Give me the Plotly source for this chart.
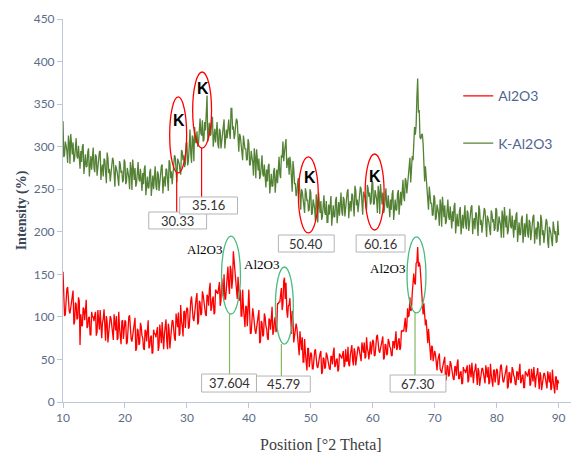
import plotly.graph_objects as go

# 2-theta scan positions (0.125 deg step, 10..90)
two_theta = [round(10 + 0.125 * i, 3) for i in range(641)]

k_al2o3 = [
    330, 288, 290, 306, 301, 295, 281, 313,  305, 280, 315, 298, 291, 305, 282, 286,
    298, 310, 289, 286, 301, 276, 274, 295,  282, 300, 303, 268, 289, 291, 276, 277,
    294, 298, 265, 283, 289, 273, 295, 299,  275, 270, 291, 288, 266, 277, 283, 294,
    295, 261, 274, 279, 265, 286, 284, 268,  257, 293, 287, 269, 274, 259, 267, 279,
    287, 284, 260, 253, 278, 275, 270, 262,  254, 283, 279, 269, 272, 258, 261, 285,
    282, 256, 259, 275, 270, 264, 250, 282,  274, 249, 285, 268, 261, 275, 253, 257,
    270, 282, 262, 259, 274, 249, 248, 269,  256, 274, 278, 243, 263, 265, 251, 252,
    270, 274, 242, 260, 266, 250, 273, 277,  254, 249, 271, 268, 248, 259, 266, 277,
    279, 245, 260, 265, 253, 274, 273, 257,  248, 284, 281, 263, 271, 256, 266, 278,
    290, 287, 265, 258, 286, 283, 280, 272,  267, 296, 294, 284, 290, 276, 280, 304,
    304, 278, 284, 300, 320, 292, 281, 313,  308, 283, 323, 306, 304, 318, 300, 304,
    321, 333, 316, 313, 331, 306, 308, 329,  319, 337, 360, 306, 326, 328, 313, 314,
    331, 335, 300, 318, 321, 305, 325, 329,  303, 298, 321, 318, 298, 309, 318, 329,
    332, 298, 315, 320, 310, 331, 332, 316,  309, 345, 345, 320, 324, 309, 314, 326,
    333, 330, 301, 294, 315, 312, 303, 295,  284, 313, 307, 297, 298, 284, 285, 309,
    304, 278, 279, 295, 288, 282, 266, 298,  288, 263, 297, 280, 272, 286, 262, 266,
    278, 290, 268, 265, 279, 254, 252, 273,  259, 277, 280, 245, 266, 268, 253, 254,
    271, 275, 246, 264, 273, 257, 284, 288,  268, 263, 290, 287, 306, 283, 294, 305,
    309, 275, 282, 287, 267, 288, 280, 264,  247, 283, 274, 256, 257, 242, 246, 258,
    263, 260, 233, 226, 250, 247, 239, 231,  222, 251, 246, 236, 238, 224, 226, 250,
    246, 220, 222, 238, 233, 227, 212, 244,  236, 211, 246, 229, 222, 236, 214, 218,
    231, 243, 223, 220, 236, 211, 211, 232,  220, 238, 242, 207, 229, 231, 217, 218,
    237, 241, 210, 228, 235, 219, 242, 246,  224, 219, 241, 238, 218, 229, 236, 247,
    250, 216, 231, 236, 224, 245, 243, 227,  218, 254, 249, 231, 238, 223, 231, 243,
    253, 250, 227, 220, 247, 244, 240, 232,  226, 255, 251, 241, 246, 232, 235, 259,
    258, 232, 233, 249, 244, 238, 222, 254,  246, 221, 256, 239, 232, 246, 222, 226,
    239, 251, 231, 228, 243, 218, 217, 238,  226, 244, 249, 214, 236, 238, 225, 226,
    245, 249, 220, 238, 247, 231, 257, 261,  241, 236, 263, 260, 245, 256, 268, 279,
    287, 258, 277, 289, 284, 315, 323, 314,  325, 358, 380, 340, 343, 311, 309, 314,
    315, 304, 273, 259, 277, 266, 254, 239,  226, 253, 245, 233, 234, 219, 220, 243,
    240, 214, 216, 232, 227, 221, 207, 238,  231, 206, 241, 224, 217, 231, 209, 212,
    226, 238, 218, 214, 230, 205, 204, 224,  212, 230, 234, 198, 219, 221, 207, 207,
    225, 229, 197, 215, 220, 204, 227, 231,  208, 203, 225, 222, 201, 211, 218, 229,
    231, 197, 211, 216, 203, 223, 221, 205,  195, 231, 226, 208, 214, 199, 207, 219,
    228, 225, 201, 194, 219, 216, 211, 203,  196, 225, 221, 211, 215, 201, 204, 228,
    226, 200, 202, 218, 214, 208, 193, 225,  218, 193, 229, 212, 205, 219, 197, 201,
    215, 227, 207, 204, 219, 194, 193, 214,  202, 220, 223, 188, 209, 211, 196, 197,
    215, 219, 187, 205, 210, 194, 217, 221,  198, 193, 214, 211, 190, 201, 207, 218,
    220, 186, 200, 205, 191, 212, 210, 194,  184, 220, 214, 196, 202, 187, 194, 206,
    215, 212, 188, 181, 206, 203, 198, 190,  183, 212, 207, 197, 201, 187, 189, 213,
    196,
]

al2o3 = [
    153, 127, 101, 103, 121, 133, 135, 110,  107, 104, 112, 117, 125, 131, 91, 94,
    117, 115, 97, 99, 123, 119, 67, 103,  91, 89, 111, 109, 96, 115, 120, 87,
    89, 99, 100, 79, 79, 106, 100, 100,  95, 102, 106, 78, 82, 108, 87, 85,
    108, 79, 75, 93, 98, 109, 82, 72,  101, 94, 70, 80, 94, 101, 98, 86,
    76, 73, 103, 95, 84, 101, 73, 75,  106, 87, 80, 68, 95, 96, 74, 91,
    96, 94, 68, 70, 88, 100, 102, 77,  74, 71, 79, 84, 93, 99, 60, 63,
    86, 84, 67, 69, 93, 89, 78, 75,  63, 61, 85, 83, 71, 90, 96, 63,
    66, 76, 78, 57, 58, 85, 80, 80,  76, 83, 88, 60, 65, 91, 71, 69,
    94, 65, 62, 80, 86, 97, 72, 62,  92, 85, 63, 73, 89, 96, 95, 83,
    75, 72, 104, 96, 88, 105, 78, 80,  114, 95, 89, 77, 106, 107, 87, 104,
    111, 109, 86, 88, 107, 119, 124, 99,  98, 95, 106, 111, 122, 128, 91, 94,
    119, 117, 102, 104, 130, 126, 116, 113,  103, 101, 126, 124, 113, 132, 140, 107,
    111, 121, 124, 103, 105, 132, 130, 130,  127, 134, 141, 113, 119, 145, 126, 124,
    150, 121, 121, 139, 148, 159, 137, 127,  160, 155, 133, 144, 177, 164, 160, 143,
    128, 121, 147, 134, 119, 132, 101, 101,  132, 111, 102, 88, 113, 112, 89, 105,
    132, 106, 80, 81, 99, 110, 103, 86,  84, 80, 89, 93, 103, 108, 69, 71,
    95, 93, 77, 79, 104, 100, 89, 86,  75, 73, 98, 96, 85, 104, 112, 79,
    83, 95, 100, 82, 86, 116, 115, 118,  117, 126, 134, 108, 115, 142, 146, 121,
    140, 107, 99, 113, 114, 122, 93, 80,  107, 97, 70, 77, 88, 92, 87, 73,
    60, 55, 83, 73, 61, 76, 47, 47,  74, 58, 50, 37, 63, 63, 41, 57,
    58, 56, 39, 39, 52, 60, 62, 44,  42, 40, 47, 50, 57, 60, 33, 35,
    52, 51, 39, 41, 58, 55, 49, 47,  39, 38, 54, 53, 44, 58, 64, 41,
    43, 50, 51, 36, 38, 57, 54, 54,  51, 56, 60, 41, 44, 62, 48, 48,
    65, 44, 42, 55, 60, 67, 49, 43,  63, 59, 43, 50, 61, 65, 64, 57,
    50, 48, 70, 64, 58, 70, 51, 53,  76, 63, 59, 50, 70, 71, 56, 68,
    73, 71, 54, 55, 69, 77, 79, 62,  60, 58, 64, 67, 73, 77, 50, 52,
    68, 67, 55, 57, 74, 71, 65, 63,  55, 54, 71, 71, 63, 77, 83, 61,
    64, 72, 75, 61, 64, 84, 83, 84,  83, 91, 99, 82, 89, 110, 100, 102,
    123, 107, 109, 128, 138, 151, 140, 138,  163, 164, 182, 159, 164, 160, 147, 129,
    112, 103, 116, 103, 90, 97, 72, 69,  86, 69, 61, 49, 66, 65, 48, 58,
    60, 56, 38, 37, 49, 56, 57, 39,  36, 34, 40, 43, 49, 53, 25, 27,
    43, 42, 30, 32, 48, 45, 38, 36,  27, 26, 42, 41, 31, 45, 50, 27,
    28, 35, 36, 21, 22, 41, 37, 37,  34, 39, 43, 23, 26, 44, 30, 29,
    46, 25, 22, 35, 38, 45, 27, 20,  40, 36, 19, 26, 36, 40, 39, 31,
    24, 22, 43, 37, 29, 41, 21, 23,  45, 32, 27, 18, 37, 38, 23, 35,
    39, 37, 20, 21, 34, 42, 44, 27,  25, 23, 29, 32, 39, 43, 16, 18,
    35, 34, 22, 24, 41, 38, 31, 29,  21, 20, 36, 35, 26, 40, 45, 22,
    24, 31, 32, 17, 17, 36, 33, 33,  30, 35, 39, 19, 21, 39, 25, 24,
    41, 20, 17, 30, 33, 40, 22, 15,  35, 31, 14, 21, 30, 34, 33, 25,
    18, 16, 36, 30, 23, 35, 14, 16,  38, 25, 19, 10, 29, 30, 14, 26,
    22,
]

x_ticks = [10, 20, 30, 40, 50, 60, 70, 80, 90]
y_ticks = [0, 50, 100, 150, 200, 250, 300, 350, 400, 450]

# Peak callouts
k_boxes = [("30.33", 23.84, 33.18, 203.3, 223.2), ("35.16", 28.83, 38.17, 220.9, 240.9),
           ("50.40", 44.77, 53.78, 176.2, 196.2), ("60.16", 57.32, 65.21, 176.2, 196.2)]
a_boxes = [("37.604", 32.37, 41.23, 11.7, 32.9), ("45.79", 41.23, 49.92, 11.7, 30.5),
           ("67.30", 62.80, 71.81, 11.7, 31.7)]
k_ellipses = [(27.22, 29.96, 269.1, 358.4), (30.93, 33.98, 298.4, 387.7),
              (47.99, 51.21, 198.6, 287.9), (58.77, 61.83, 202.1, 291.4)]
k_text = [(28.67, 330.2), (32.54, 368.9), (49.92, 263.2), (60.38, 265.5)]
k_lines = [(28.35, 269.1, 223.2), (32.37, 298.4, 240.9)]
a_ellipses = [(35.59, 38.65, 103.4, 195.0), (44.29, 47.18, 68.1, 158.6),
              (65.53, 68.59, 104.6, 193.9)]
a_lines = [(36.88, 103.4, 32.9), (45.25, 68.1, 30.5), (66.82, 104.6, 31.7)]
a_text = [(32.86, 178.6), (42.03, 161.0), (62.31, 157.4)]

RED = "#ff0000"
GREEN = "#548235"
AXIS = "#bcc6d6"
TICKC = "#5b6c88"

fig = go.Figure()
fig.add_trace(go.Scatter(x=two_theta, y=al2o3, mode="lines", name="Al2O3",
                         line=dict(color=RED, width=1.3), legendgroup="a"))
fig.add_trace(go.Scatter(x=two_theta, y=k_al2o3, mode="lines", name="K-Al2O3",
                         line=dict(color=GREEN, width=1.3), legendgroup="b"))

shapes = []
annotations = []
for (x0, x1, y0, y1) in k_ellipses:
    shapes.append(dict(type="circle", xref="x", yref="y", x0=x0, x1=x1, y0=y0, y1=y1,
                       line=dict(color=RED, width=1.3)))
for (xx, y0, y1) in k_lines:
    shapes.append(dict(type="line", xref="x", yref="y", x0=xx, x1=xx, y0=y0, y1=y1,
                       line=dict(color=RED, width=1.2)))
for (x0, x1, y0, y1) in a_ellipses:
    shapes.append(dict(type="circle", xref="x", yref="y", x0=x0, x1=x1, y0=y0, y1=y1,
                       line=dict(color="#4cbb80", width=1.3)))
for (xx, y0, y1) in a_lines:
    shapes.append(dict(type="line", xref="x", yref="y", x0=xx, x1=xx, y0=y0, y1=y1,
                       line=dict(color="#86b862", width=1.2)))
for (lab, x0, x1, y0, y1) in k_boxes + a_boxes:
    shapes.append(dict(type="rect", xref="x", yref="y", x0=x0, x1=x1, y0=y0, y1=y1,
                       line=dict(color="#b4b4b4", width=1), fillcolor="white", layer="above"))
    annotations.append(dict(x=(x0 + x1) / 2, y=(y0 + y1) / 2, xref="x", yref="y", text=lab,
                            showarrow=False, font=dict(family="Lato", size=13, color="#333333")))
for (xx, yy) in k_text:
    annotations.append(dict(x=xx, y=yy, xref="x", yref="y", text="<b>K</b>", showarrow=False,
                            font=dict(family="Liberation Sans", size=16, color="black")))
for (xx, yy) in a_text:
    annotations.append(dict(x=xx, y=yy, xref="x", yref="y", text="Al2O3", showarrow=False,
                            font=dict(family="Liberation Serif", size=13, color="black")))

# axis titles
annotations.append(dict(x=0.508, y=-0.112, xref="paper", yref="paper", text="Position [°2 Theta]",
                        showarrow=False, xanchor="center", yanchor="middle",
                        font=dict(family="Liberation Serif", size=16, color="#404040")))
annotations.append(dict(x=-0.081, y=0.5, xref="paper", yref="paper", text="<b>Intensity (%)</b>",
                        showarrow=False, textangle=-90, xanchor="center", yanchor="middle",
                        font=dict(family="Liberation Serif", size=14, color="#3b4658")))

fig.update_layout(
    width=573, height=458,
    margin=dict(l=63, r=2, t=19, b=56),
    paper_bgcolor="white", plot_bgcolor="white",
    shapes=shapes, annotations=annotations,
    showlegend=True,
    legend=dict(x=0.778, y=0.84, xanchor="left", yanchor="top", bgcolor="rgba(0,0,0,0)",
                font=dict(family="Lato", size=14, color="#4f6690"), tracegroupgap=26,
                traceorder="grouped"),
    xaxis=dict(range=[10, 92], tickvals=x_ticks, ticks="outside", ticklen=5, tickcolor=AXIS,
               showline=True, linecolor=AXIS, linewidth=1, showgrid=False, zeroline=False,
               automargin=False, tickfont=dict(family="Lato", size=12, color=TICKC)),
    yaxis=dict(range=[0, 450], tickvals=y_ticks, ticks="outside", ticklen=5, tickcolor=AXIS,
               showline=True, linecolor=AXIS, linewidth=1, showgrid=False, zeroline=False,
               automargin=False, tickfont=dict(family="Lato", size=12, color=TICKC)),
)

fig.write_html("out.html", config={"displayModeBar": False},
               post_script="document.body.style.margin='0px';")
